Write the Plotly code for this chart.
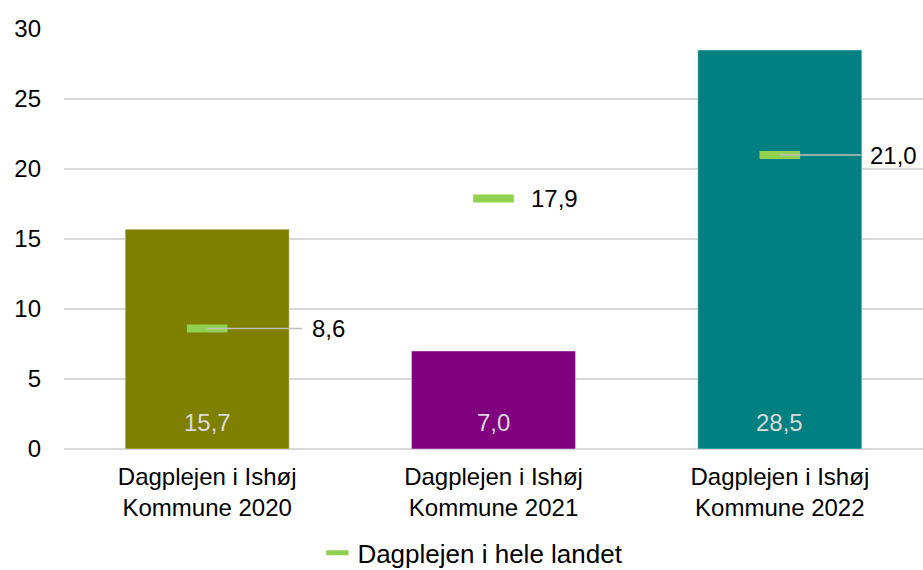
import plotly.graph_objects as go

categories = ["Dagplejen i Ishøj<br>Kommune 2020",
              "Dagplejen i Ishøj<br>Kommune 2021",
              "Dagplejen i Ishøj<br>Kommune 2022"]
kommune_values = [15.7, 7.0, 28.5]
landet_values = [8.6, 17.9, 21.0]
bar_colors = ["#808000", "#800080", "#008080"]
y_ticks = [0, 5, 10, 15, 20, 25, 30]

def fmt(v):
    return f"{v:.1f}".replace(".", ",")

FONT = "Liberation Sans, Arial, sans-serif"

fig = go.Figure()
fig.add_trace(go.Bar(
    x=categories, y=kommune_values, marker_color=bar_colors,
    width=0.573, showlegend=False, hoverinfo="skip"))
fig.add_trace(go.Scatter(
    x=categories, y=landet_values, mode="markers",
    name="Dagplejen i hele landet",
    marker=dict(symbol="line-ew", size=29, color="#92D050",
                line=dict(color="#92D050", width=8))))

# bar value labels inside bars near the base
for c, v in zip(categories, kommune_values):
    fig.add_annotation(x=c, y=0, text=fmt(v), showarrow=False,
                       yanchor="middle", yshift=27,
                       font=dict(family=FONT, size=24, color="#D9D9D9"))

# landet labels (offsets as in the source layout)
label_offsets = [121, 0, 114]
label_shift_noarrow = [0, 61, 0]
for c, v, off, sh in zip(categories, landet_values, label_offsets, label_shift_noarrow):
    if off:
        fig.add_annotation(x=c, y=v, text=fmt(v), showarrow=True,
                           ax=off, ay=0, arrowhead=0, arrowwidth=1.5,
                           arrowcolor="#BFBFBF", startstandoff=8,
                           font=dict(family=FONT, size=24, color="#000000"))
    else:
        fig.add_annotation(x=c, y=v, text=fmt(v), showarrow=False,
                           xshift=sh,
                           font=dict(family=FONT, size=24, color="#000000"))

fig.update_layout(
    width=923, height=570,
    margin=dict(l=64, r=0, t=29, b=121, autoexpand=False),
    plot_bgcolor="white", paper_bgcolor="white",
    font=dict(family=FONT, size=24, color="#000000"),
    legend=dict(orientation="h", x=0.476, xanchor="center",
                y=-0.247, yanchor="middle",
                font=dict(family=FONT, size=26, color="#000000"),
                itemwidth=30),
    xaxis=dict(showline=False, ticks="", tickfont=dict(size=24),
               ticklabelstandoff=11, automargin=False),
    yaxis=dict(range=[0, 30], tickvals=y_ticks, showgrid=True,
               gridcolor="#D9D9D9", gridwidth=1.5, zeroline=True,
               zerolinecolor="#D9D9D9", zerolinewidth=1.5,
               ticklabelstandoff=22, tickfont=dict(size=24),
               automargin=False),
)

fig.write_html("out.html",
               config={"displayModeBar": False},
               post_script="document.body.style.margin='0px';document.body.style.overflow='hidden';")
